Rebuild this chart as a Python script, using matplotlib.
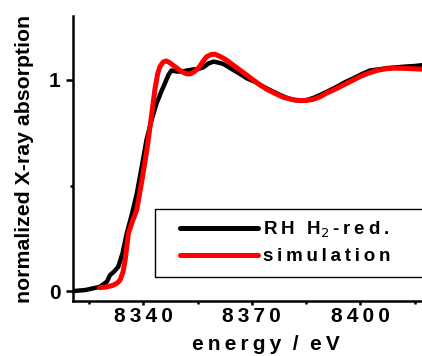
import matplotlib
matplotlib.use("Agg")
import matplotlib.pyplot as plt
from matplotlib.patches import Rectangle

# Measured spectrum: RH sample after H2 reduction
energy_meas = [8320.6, 8324.0, 8328.0, 8330.0, 8330.8, 8331.8, 8333.1, 8334.3,
               8335.4, 8336.8, 8338.2, 8339.6, 8340.9, 8342.3, 8343.7, 8345.0,
               8346.0, 8347.0, 8347.8, 8349.2, 8350.6, 8352.2, 8353.9, 8355.2,
               8356.6, 8358.0, 8359.4, 8360.8, 8362.1, 8363.5, 8364.9, 8366.8,
               8368.6, 8371.0, 8373.2, 8375.5, 8377.8, 8379.7, 8381.5, 8383.3,
               8385.2, 8387.0, 8388.9, 8391.2, 8393.5, 8395.8, 8398.1, 8400.4,
               8402.7, 8405.0, 8407.3, 8410.0, 8412.9, 8415.0, 8417.0]
mu_meas = [0.000, 0.005, 0.020, 0.045, 0.075, 0.090, 0.115, 0.180,
           0.270, 0.360, 0.460, 0.590, 0.716, 0.810, 0.890, 0.945,
           0.985, 1.025, 1.045, 1.040, 1.040, 1.045, 1.050, 1.052,
           1.060, 1.078, 1.087, 1.082, 1.076, 1.062, 1.047, 1.028,
           1.008, 0.990, 0.968, 0.948, 0.929, 0.915, 0.905, 0.902,
           0.905, 0.915, 0.929, 0.948, 0.968, 0.990, 1.008, 1.028,
           1.045, 1.050, 1.056, 1.060, 1.064, 1.066, 1.070]

# Simulated spectrum
energy_sim = [8328.0, 8330.0, 8331.6, 8332.8, 8333.6, 8334.4, 8335.0, 8335.9,
              8337.0, 8338.2, 8339.6, 8341.0, 8342.2, 8343.2, 8344.0, 8344.6,
              8345.5, 8346.4, 8347.3, 8348.2, 8349.4, 8350.6, 8351.8, 8352.9,
              8354.0, 8355.2, 8356.4, 8357.5, 8358.7, 8359.8, 8361.4, 8363.0,
              8364.8, 8366.7, 8368.6, 8370.4, 8372.2, 8374.1, 8376.4, 8378.7,
              8381.0, 8383.3, 8385.1, 8386.9, 8388.8, 8390.6, 8393.0, 8395.3,
              8397.6, 8399.9, 8402.2, 8404.5, 8406.8, 8409.1, 8412.0, 8414.5,
              8417.0]
mu_sim = [0.016, 0.020, 0.027, 0.038, 0.052, 0.090, 0.147, 0.273,
          0.330, 0.384, 0.520, 0.668, 0.820, 0.953, 1.030, 1.063,
          1.085, 1.090, 1.082, 1.070, 1.055, 1.040, 1.030, 1.028,
          1.038, 1.055, 1.085, 1.110, 1.120, 1.122, 1.110, 1.094,
          1.071, 1.047, 1.023, 1.000, 0.977, 0.956, 0.936, 0.918,
          0.908, 0.902, 0.903, 0.908, 0.920, 0.937, 0.956, 0.976,
          0.996, 1.016, 1.032, 1.045, 1.052, 1.056, 1.055, 1.053,
          1.051]

series_labels = ["RH H$_2$-red.", "simulation"]
x_major = [8340, 8370, 8400]
x_minor = [8325, 8355, 8385, 8415]
y_major = [0, 1]
y_minor = [0.5]
xlabel = "energy / eV"
ylabel = "normalized X-ray absorption"

TS = "\u2009"  # thin space used for tracking of the bold labels


def tracked(s):
    return TS.join(list(s))


fam = ["Liberation Sans", "DejaVu Sans"]

fig = plt.figure(figsize=(4.22, 3.56), dpi=100)
ax = fig.add_axes([0.173, 0.1545, 0.827, 0.8006])

ax.plot(energy_meas, mu_meas, color="black", lw=3.2, solid_capstyle="round",
        label=series_labels[0])
ax.plot(energy_sim, mu_sim, color="#ff0000", lw=3.6, solid_capstyle="round",
        label=series_labels[1])

ax.set_xlim(8320.6, 8417.0)
ax.set_ylim(-0.047, 1.303)

for side in ("top", "right"):
    ax.spines[side].set_visible(False)
for side in ("left", "bottom"):
    ax.spines[side].set_linewidth(1.8)

ax.set_xticks(x_major)
ax.set_xticklabels([tracked(str(v)) for v in x_major])
ax.set_xticks(x_minor, minor=True)
ax.set_yticks(y_major)
ax.set_yticklabels([str(v) for v in y_major])
ax.set_yticks(y_minor, minor=True)

ax.tick_params(axis="x", which="major", direction="out", length=3, width=1.8, pad=1)
ax.tick_params(axis="x", which="minor", direction="out", length=2.5, width=1.8)
ax.tick_params(axis="y", which="major", direction="out", length=5, width=1.8, pad=4)
ax.tick_params(axis="y", which="minor", direction="out", length=2.5, width=1.8)

for lab in ax.get_xticklabels() + ax.get_yticklabels():
    lab.set_fontfamily(fam)
    lab.set_fontweight("bold")
    lab.set_fontsize(15)

ax.set_xlabel(tracked("energy") + "  /  " + tracked("eV"), family=fam,
              fontweight="bold", fontsize=15)
ax.xaxis.set_label_coords(0.553, -0.118)
ax.set_ylabel(ylabel, family=fam, fontweight="bold", fontsize=15.3)
ax.yaxis.set_label_coords(-0.113, 0.5)

# legend box, running past the right edge of the figure
ax.add_patch(Rectangle((0.235, 0.084), 0.9, 0.239, transform=ax.transAxes,
                       fill=False, edgecolor="black", lw=1.0, clip_on=False))
leg = ax.legend(loc="center left", bbox_to_anchor=(0.3066, 0.205),
                frameon=False, handlelength=4.15, handletextpad=0.3,
                borderpad=0, borderaxespad=0, labelspacing=0.42,
                prop={"family": fam, "weight": "bold", "size": 13.5})
leg.get_texts()[0].set_text("R" + TS + "H" + TS + " " + TS + "H$_2$" + TS + tracked("-red."))
leg.get_texts()[1].set_text(tracked("simulation"))
for h in leg.get_lines():
    h.set_linewidth(3.6)
    h.set_solid_capstyle("round")

fig.savefig("out.png", dpi=100)
